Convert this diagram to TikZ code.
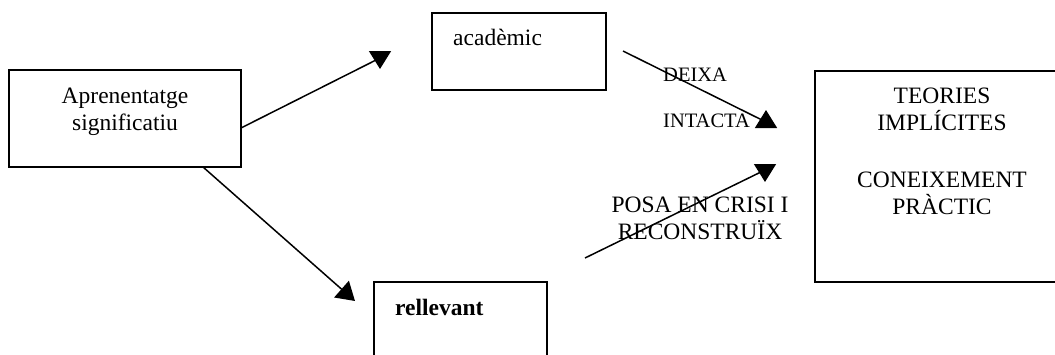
\documentclass[tikz,border=0pt]{standalone}
\usepackage{fontspec}
\setmainfont{Liberation Serif}
\usetikzlibrary{arrows.meta}
\tikzstyle{box}=[rectangle,draw=black,line width=1.8pt,inner sep=0pt]
\tikzstyle{txt}=[inner sep=0pt,font=\fontsize{23.5}{27}\selectfont]
\tikzstyle{small}=[inner sep=0pt,font=\fontsize{20.5}{24}\selectfont]
\tikzstyle{link}=[line width=1.5pt,line join=round,
  -{Triangle[length=18pt,width=22pt]}]

\begin{document}
\begin{tikzpicture}[x=1pt,y=-1pt]
    \useasboundingbox (0,0) rectangle (1055,354);
    % boxes
    \node [style=box,minimum width=232pt,minimum height=97pt] (apren) at (125,118.5) {};
    \node [style=box,minimum width=174pt,minimum height=77pt] (acad) at (519,51.5) {};
    \node [style=box,minimum width=173pt,minimum height=100pt] (rellev) at (460.5,332) {};
    \node [style=box,minimum width=320pt,minimum height=211pt] (teories) at (975,176.5) {};
    % texts
    \node [style=txt,anchor=north,align=center] (aprentxt) at (125,88) {Aprenentatge\\significatiu};
    \node [style=txt,anchor=base west] (acadtxt) at (453,45) {acadèmic};
    \node [style=txt,anchor=base west,font=\fontsize{23.5}{27}\selectfont\bfseries] (relltxt) at (395,315) {rellevant};
    \node [style=txt,anchor=north,align=center] (teotxt) at (942,87.5)
      {TEORIES\\IMPLÍCITES\\[30pt]CONEIXEMENT\\PRÀCTIC};
    \node [style=small,anchor=north west,align=left] (deixa) at (663,68) {DEIXA\\[22pt]INTACTA};
    \node [style=txt,anchor=north,align=center] (posa) at (700,197) {POSA EN CRISI I\\RECONSTRUÏX};
    % connectors
    \coordinate (s1) at (241,128);
    \coordinate (c1) at (380,58);
    \coordinate (s2) at (203,167);
    \coordinate (t2) at (355,301);
    \coordinate (s3) at (623,51);
    \coordinate (c3) at (766,122);
    \coordinate (s4) at (585,258);
    \coordinate (c4) at (765,170);
    \draw [style=link] (s1) to (c1) -- ++(0,11);
    \draw [style=link] (s2) to (t2);
    \draw [style=link] (s3) to (c3) -- ++(0,-12);
    \draw [style=link] (s4) to (c4) -- ++(0,12);
\end{tikzpicture}
\end{document}
